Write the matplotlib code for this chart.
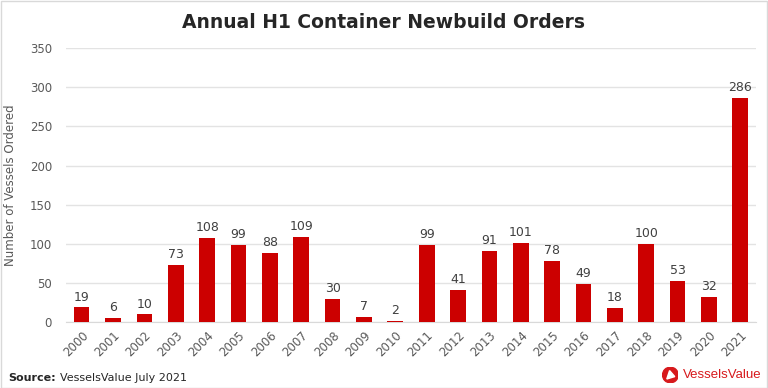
import numpy as np
import matplotlib.pyplot as plt
from matplotlib.patches import Rectangle, Circle, Polygon

years = [str(y) for y in range(2000, 2022)]
orders = [19, 6, 10, 73, 108, 99, 88, 109, 30, 7, 2,
          99, 41, 91, 101, 78, 49, 18, 100, 53, 32, 286]

BAR_RED = '#CC0000'
GREY_TXT = '#595959'
W, H = 768, 388

fig = plt.figure(figsize=(7.68, 3.88), dpi=100)
ax = fig.add_axes([0.0859, 0.1693, 0.8985, 0.7067])

x = np.arange(len(years))
ax.bar(x, orders, width=0.5, color=BAR_RED, zorder=3)

for xi, v in zip(x, orders):
    ax.text(xi, v + 5, str(v), ha='center', va='bottom',
            fontsize=9, color='#404040')

ax.set_xlim(-0.5, len(years) - 0.5)
ax.set_ylim(0, 350)
ax.set_yticks(range(0, 351, 50))
ax.set_xticks(x)
ax.set_xticklabels(years, rotation=45, ha='right', rotation_mode='anchor')
ax.tick_params(axis='both', length=0, labelsize=8.5, labelcolor=GREY_TXT)
ax.tick_params(axis='x', pad=5)
ax.tick_params(axis='y', pad=10)
ax.grid(axis='y', color='#E3E3E3', linewidth=1, zorder=0)
for s in ['top', 'right', 'left']:
    ax.spines[s].set_visible(False)
ax.spines['bottom'].set_color('#D9D9D9')
ax.set_ylabel('Number of Vessels Ordered', fontsize=8.5, color=GREY_TXT, labelpad=9)

fig.text(0.5, 0.943, 'Annual H1 Container Newbuild Orders', ha='center', va='center',
         fontsize=13.5, fontweight='bold', color='#262626')

renderer = fig.canvas.get_renderer()

# source note
src = fig.text(8 / W, 1 - 378 / H, 'Source:', fontsize=8, fontweight='bold',
               color='#262626', ha='left', va='center')
bb = src.get_window_extent(renderer)
fig.text((bb.x1 + 4) / W, 1 - 378 / H, 'VesselsValue July 2021', fontsize=8,
         color='#262626', ha='left', va='center')

# logo: text right-aligned, circle placed left of it
brand = fig.text(762 / W, 1 - 375 / H, 'VesselsValue', fontsize=9.5,
                 family='Liberation Sans', color='#D7191C', ha='right', va='center')
tb = brand.get_window_extent(renderer)
lx = tb.x0 - 5 - 16
lax = fig.add_axes([lx / W, 1 - 383 / H, 16 / W, 16 / H])
lax.set_xlim(-1, 1)
lax.set_ylim(-1, 1)
lax.axis('off')
lax.add_patch(Circle((0, 0), 0.98, color='#D7191C'))
lax.add_patch(Polygon([(-0.45, -0.5), (-0.1, 0.55), (0.55, -0.2)], closed=True, color='white'))

# figure border
fig.add_artist(Rectangle((0.001, 0.001), 0.998, 0.997, transform=fig.transFigure,
                         fill=False, edgecolor='#D9D9D9', linewidth=1))

plt.savefig('out.png', dpi=100)
